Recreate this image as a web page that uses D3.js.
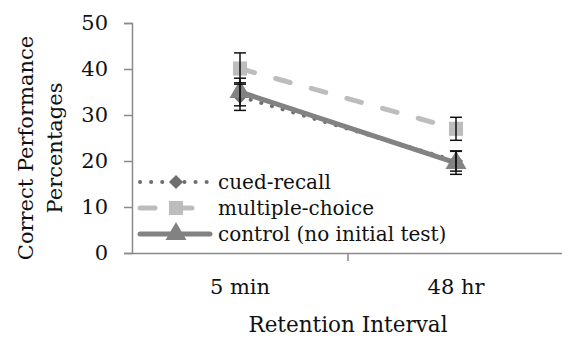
<!DOCTYPE html>
<html>
<head>
<meta charset="utf-8">
<script src="https://cdn.jsdelivr.net/npm/d3@7"></script>
<style>
  body { margin: 0; background: #fff; }
  svg { display: block; font-family: "DejaVu Serif", serif; }
</style>
</head>
<body>
<div id="chart"></div>
<script>
const categories = ['5 min', '48 hr'];
const yTicks = [0, 10, 20, 30, 40, 50];
const cuedRecall = [34, 20];
const cuedRecallErr = [3.0, 2.2];
const multipleChoice = [40.1, 27];
const multipleChoiceErr = [3.4, 2.5];
const control = [35, 19.6];
const controlErr = [3.0, 2.5];
const seriesNames = ['cued-recall', 'multiple-choice', 'control (no initial test)'];

const width = 562, height = 337;
const margin = {top: 23, right: 0, bottom: 84, left: 132};
const font = '"DejaVu Serif", serif';

const svg = d3.select('#chart').append('svg')
    .attr('width', width)
    .attr('height', height);

const x = d3.scaleBand()
    .domain(categories)
    .range([margin.left, 564]);

const y = d3.scaleLinear()
    .domain([0, 50])
    .range([height - margin.bottom, margin.top]);

const series = [
    {name: seriesNames[0], values: cuedRecall, err: cuedRecallErr, color: '#6f6f6f', width: 4, dash: '0.1,11', marker: 'diamond'},
    {name: seriesNames[1], values: multipleChoice, err: multipleChoiceErr, color: '#bdbdbd', width: 5, dash: '15,22', marker: 'square'},
    {name: seriesNames[2], values: control, err: controlErr, color: '#828282', width: 5, dash: null, marker: 'triangle'}
];

// diamond = square turned 45 degrees, like the Excel marker
const symbolType = {diamond: d3.symbolSquare, square: d3.symbolSquare, triangle: d3.symbolTriangle};
const symbolSize = {diamond: 100, square: 200, triangle: 190};
const symbolRot = {diamond: 45, square: 0, triangle: 0};

// y axis
const yAxis = svg.append('g')
    .attr('transform', `translate(${margin.left},0)`)
    .call(d3.axisLeft(y).tickValues(yTicks).tickSize(8).tickPadding(16));
yAxis.selectAll('line, path').attr('stroke', '#8a8a8a').attr('stroke-width', 1.5);
yAxis.selectAll('text')
    .style('font-family', font)
    .style('font-size', '21px')
    .style('fill', '#111');

// x axis
const xAxis = svg.append('g')
    .attr('transform', `translate(0,${y(0)})`)
    .call(d3.axisBottom(x).tickSize(0).tickPadding(26));
xAxis.select('path').attr('stroke', '#8a8a8a').attr('stroke-width', 1.5);
xAxis.selectAll('text')
    .style('font-family', font)
    .style('font-size', '21px')
    .style('fill', '#111');
xAxis.selectAll('.sep')
    .data(categories.slice(1))
    .enter().append('line')
    .attr('x1', d => x(d))
    .attr('x2', d => x(d))
    .attr('y1', 0)
    .attr('y2', 8)
    .attr('stroke', '#8a8a8a')
    .attr('stroke-width', 1.5);

// axis titles
svg.append('text')
    .attr('x', 348)
    .attr('y', 332)
    .attr('text-anchor', 'middle')
    .style('font-size', '21.5px')
    .style('fill', '#111')
    .text('Retention Interval');

const yTitle = svg.append('text')
    .attr('transform', 'translate(0,148) rotate(-90)')
    .attr('text-anchor', 'middle')
    .style('font-size', '21px')
    .style('fill', '#111');
yTitle.append('tspan').attr('x', 0).attr('y', 33).text('Correct Performance');
yTitle.append('tspan').attr('x', 0).attr('y', 62).text('Percentages');

const cx = d => x(d) + x.bandwidth() / 2;

const line = d3.line()
    .x((d, i) => cx(categories[i]))
    .y(d => y(d));

// lines
series.forEach(s => {
    svg.append('path')
        .datum(s.values)
        .attr('fill', 'none')
        .attr('stroke', s.color)
        .attr('stroke-width', s.width)
        .attr('stroke-linecap', 'round')
        .attr('stroke-dasharray', s.dash)
        .attr('d', line);
});

// markers
series.forEach(s => {
    svg.selectAll(null)
        .data(s.values)
        .enter().append('path')
        .attr('transform', (d, i) => `translate(${cx(categories[i])},${y(d)}) rotate(${symbolRot[s.marker]})`)
        .attr('d', d3.symbol().type(symbolType[s.marker]).size(symbolSize[s.marker]))
        .attr('fill', s.color);
});

// error bars
series.forEach(s => {
    const g = svg.append('g').attr('stroke', '#111').attr('stroke-width', 1.5);
    s.values.forEach((v, i) => {
        const px = cx(categories[i]);
        g.append('line').attr('x1', px).attr('x2', px).attr('y1', y(v - s.err[i])).attr('y2', y(v + s.err[i]));
        [v - s.err[i], v + s.err[i]].forEach(e => {
            g.append('line').attr('x1', px - 6).attr('x2', px + 6).attr('y1', y(e)).attr('y2', y(e));
        });
    });
});

// legend
const legend = svg.append('g');
series.forEach((s, i) => {
    const ly = 182 + i * 26;
    legend.append('rect')
        .attr('x', 134).attr('y', ly - 12).attr('width', 80).attr('height', 24)
        .attr('fill', '#fff');
    legend.append('line')
        .attr('x1', 140).attr('x2', 210)
        .attr('y1', ly).attr('y2', ly)
        .attr('stroke', s.color)
        .attr('stroke-width', s.width)
        .attr('stroke-linecap', 'round')
        .attr('stroke-dasharray', s.dash);
    legend.append('path')
        .attr('transform', `translate(176,${ly}) rotate(${symbolRot[s.marker]})`)
        .attr('d', d3.symbol().type(symbolType[s.marker]).size(symbolSize[s.marker]))
        .attr('fill', s.color);
    legend.append('text')
        .attr('x', 218).attr('y', ly)
        .attr('dy', '0.35em')
        .style('font-size', '20px')
        .style('fill', '#111')
        .text(s.name);
});
</script>
</body>
</html>
